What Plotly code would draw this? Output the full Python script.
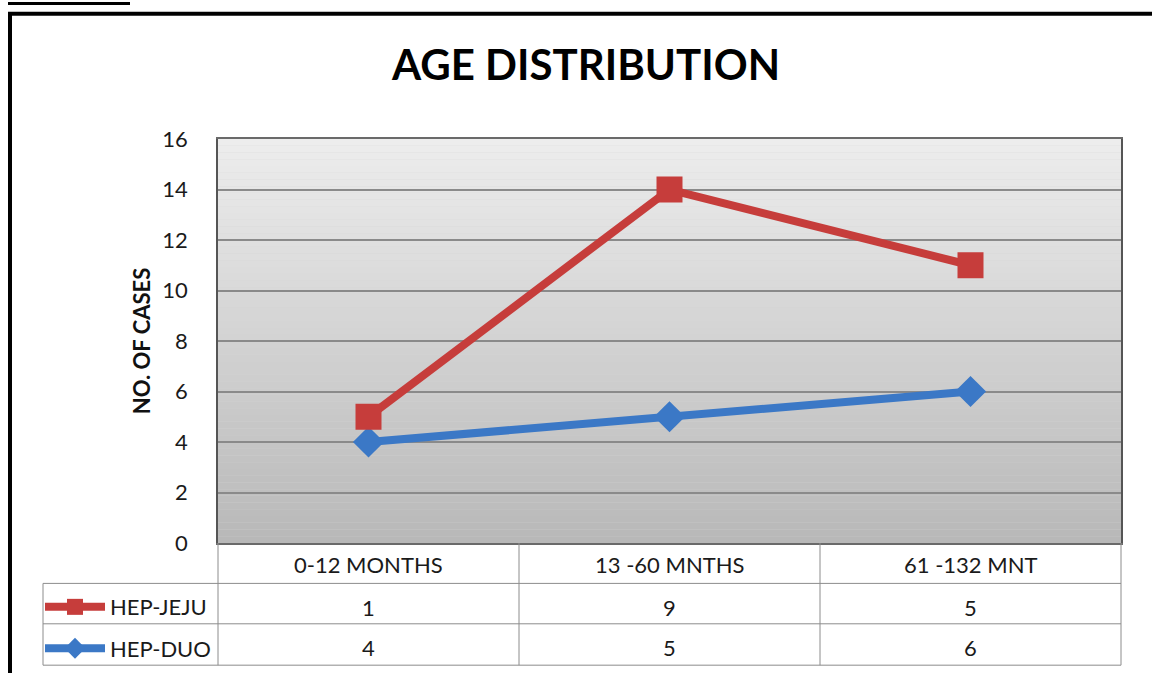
import plotly.graph_objects as go

# ---- data ----
categories = ["0-12 MONTHS", "13 -60 MNTHS", "61 -132 MNT"]
hep_jeju = [1, 9, 5]
hep_duo = [4, 5, 6]
series_names = ["HEP-JEJU", "HEP-DUO"]
y_ticks = [0, 2, 4, 6, 8, 10, 12, 14, 16]

W, H = 1152, 681
L, R, T, B = 218, 1121, 139, 549  # plot area in pixels
FONT = "Lato"
RED = "#C63D3B"
BLUE = "#3B78C6"
GRID = "#8a8a8a"
TBL = "#8c8c8c"
TXT = "#1a1a1a"


def px(x):
    return (x - L) / (R - L)


def py(y):
    return (B - y) / (B - T)


fig = go.Figure()

# stacked line chart: HEP-DUO at bottom, HEP-JEJU stacked on top
fig.add_trace(go.Scatter(
    x=categories, y=hep_duo, name=series_names[1], stackgroup="one", fill="none",
    mode="lines+markers", line=dict(color=BLUE, width=8),
    marker=dict(symbol="diamond", size=24, color=BLUE), legend="legend2",
))
fig.add_trace(go.Scatter(
    x=categories, y=hep_jeju, name=series_names[0], stackgroup="one", fill="none",
    mode="lines+markers", line=dict(color=RED, width=8),
    marker=dict(symbol="square", size=26, color=RED), legend="legend",
))

shapes = []
# gradient background bands
n = 60
c0 = (237, 237, 237)
c1 = (184, 184, 184)
for i in range(n):
    f = 1 - (i + 0.5) / n
    c = tuple(int(round(c0[k] + (c1[k] - c0[k]) * f)) for k in range(3))
    shapes.append(dict(type="rect", xref="x domain", yref="y domain",
                       x0=0, x1=1, y0=i / n, y1=(i + 1) / n,
                       fillcolor="rgb(%d,%d,%d)" % c, line=dict(width=0), layer="below"))


def hline(y, x0, x1, color=TBL, w=1):
    shapes.append(dict(type="line", xref="paper", yref="paper", x0=px(x0), x1=px(x1),
                       y0=py(y), y1=py(y), line=dict(color=color, width=w)))


def vline(x, y0, y1, color=TBL, w=1):
    shapes.append(dict(type="line", xref="paper", yref="paper", x0=px(x), x1=px(x),
                       y0=py(y0), y1=py(y1), line=dict(color=color, width=w)))


# data table grid
hline(590, 43, R)
hline(631, 43, R)
hline(673, 43, R)
vline(43, 590, 673)
for xv in (218, 519, 820, 1121):
    vline(xv, 549, 673)

# outer black frame and caption underline
shapes.append(dict(type="line", xref="paper", yref="paper", x0=px(8), x1=px(1152),
                   y0=py(12), y1=py(12), line=dict(color="black", width=4)))
shapes.append(dict(type="line", xref="paper", yref="paper", x0=px(10), x1=px(10),
                   y0=py(10), y1=py(681), line=dict(color="black", width=4)))
shapes.append(dict(type="line", xref="paper", yref="paper", x0=px(8), x1=px(130),
                   y0=py(1.5), y1=py(1.5), line=dict(color="black", width=3)))

annotations = []
for i, cat in enumerate(categories):
    for yy, txt in ((571, cat), (614, str(hep_jeju[i])), (655, str(hep_duo[i]))):
        annotations.append(dict(x=cat, y=py(yy), xref="x", yref="paper", text=txt,
                                xanchor="center", yanchor="middle", showarrow=False,
                                font=dict(size=22, color=TXT, family=FONT)))

leg_common = dict(xanchor="left", yanchor="middle", bgcolor="rgba(0,0,0,0)",
                  font=dict(size=22, family=FONT, color=TXT), itemwidth=60)

fig.update_layout(
    width=W, height=H,
    margin=dict(l=L, r=W - R, t=T, b=H - B),
    paper_bgcolor="white", plot_bgcolor="#d4d4d4",
    title=dict(text="<b>AGE DISTRIBUTION</b>", xref="container", x=586 / W, xanchor="center",
               yref="container", y=1 - 65 / H, yanchor="middle",
               font=dict(size=42, color="black", family=FONT)),
    font=dict(family=FONT, color=TXT),
    xaxis=dict(type="category", range=[-0.5, 2.5], showticklabels=False, showgrid=False,
               showline=True, linecolor="#6a6a6a", linewidth=2, mirror=True, zeroline=False),
    yaxis=dict(range=[0, 16], tickvals=y_ticks, showgrid=True, gridcolor=GRID, gridwidth=1.5,
               showline=True, linecolor="#555555", linewidth=1.5, mirror=True, zeroline=False,
               tickfont=dict(size=22, family=FONT, color=TXT), ticklabelstandoff=24,
               title=dict(text="<b>NO. OF CASES</b>", font=dict(size=22, family=FONT, color="#111"),
                          standoff=6)),
    showlegend=True,
    legend=dict(x=px(40), y=py(614), **leg_common),
    legend2=dict(x=px(40), y=py(656), **leg_common),
    shapes=shapes,
    annotations=annotations,
)

fig.write_html("out.html", config={"displayModeBar": False},
               post_script="document.body.style.margin='0px';")
